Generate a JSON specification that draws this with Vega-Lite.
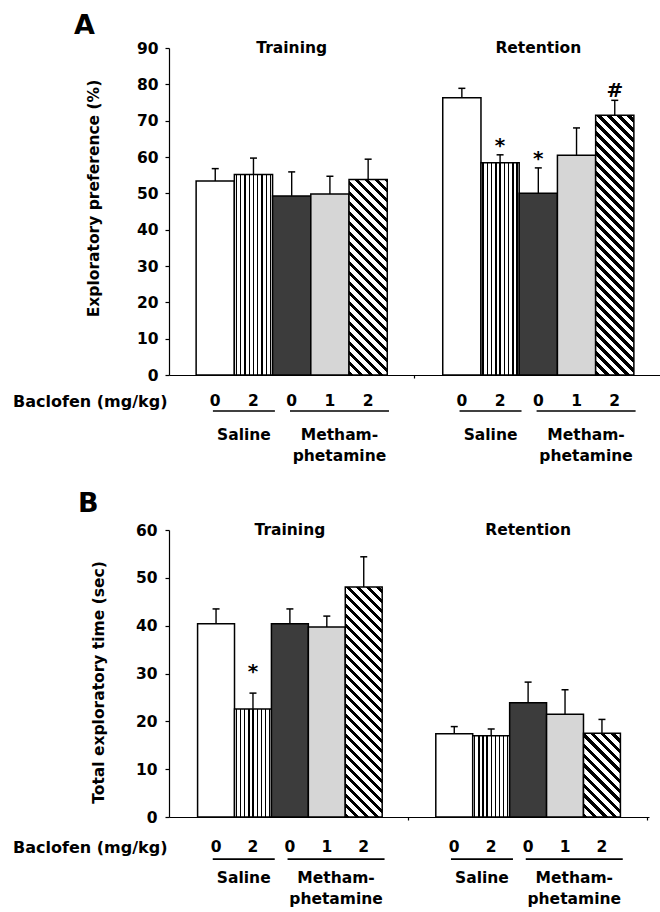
{
  "$schema": "https://vega.github.io/schema/vega-lite/v6.json",
  "background": "white",
  "padding": {"left": 12, "top": 11, "right": 0, "bottom": 0},
  "params": [
    {"name": "vstops", "value": [
      {"offset": 0.04, "color": "#fff"}, {"offset": 0.04, "color": "#000"}, {"offset": 0.075, "color": "#000"}, {"offset": 0.075, "color": "#fff"},
      {"offset": 0.151, "color": "#fff"}, {"offset": 0.151, "color": "#000"}, {"offset": 0.186, "color": "#000"}, {"offset": 0.186, "color": "#fff"},
      {"offset": 0.262, "color": "#fff"}, {"offset": 0.262, "color": "#000"}, {"offset": 0.297, "color": "#000"}, {"offset": 0.297, "color": "#fff"},
      {"offset": 0.373, "color": "#fff"}, {"offset": 0.373, "color": "#000"}, {"offset": 0.408, "color": "#000"}, {"offset": 0.408, "color": "#fff"},
      {"offset": 0.484, "color": "#fff"}, {"offset": 0.484, "color": "#000"}, {"offset": 0.519, "color": "#000"}, {"offset": 0.519, "color": "#fff"},
      {"offset": 0.596, "color": "#fff"}, {"offset": 0.596, "color": "#000"}, {"offset": 0.631, "color": "#000"}, {"offset": 0.631, "color": "#fff"},
      {"offset": 0.707, "color": "#fff"}, {"offset": 0.707, "color": "#000"}, {"offset": 0.742, "color": "#000"}, {"offset": 0.742, "color": "#fff"},
      {"offset": 0.818, "color": "#fff"}, {"offset": 0.818, "color": "#000"}, {"offset": 0.853, "color": "#000"}, {"offset": 0.853, "color": "#fff"},
      {"offset": 0.929, "color": "#fff"}, {"offset": 0.929, "color": "#000"}, {"offset": 0.964, "color": "#000"}, {"offset": 0.964, "color": "#fff"}
    ]},
    {"name": "dstops", "value": [
      {"offset": 0, "color": "#fff"}, {"offset": 0, "color": "#000"}, {"offset": 0.015, "color": "#000"}, {"offset": 0.015, "color": "#fff"},
      {"offset": 0.0333, "color": "#fff"}, {"offset": 0.0333, "color": "#000"}, {"offset": 0.0483, "color": "#000"}, {"offset": 0.0483, "color": "#fff"},
      {"offset": 0.0667, "color": "#fff"}, {"offset": 0.0667, "color": "#000"}, {"offset": 0.0817, "color": "#000"}, {"offset": 0.0817, "color": "#fff"},
      {"offset": 0.1, "color": "#fff"}, {"offset": 0.1, "color": "#000"}, {"offset": 0.115, "color": "#000"}, {"offset": 0.115, "color": "#fff"},
      {"offset": 0.1333, "color": "#fff"}, {"offset": 0.1333, "color": "#000"}, {"offset": 0.1483, "color": "#000"}, {"offset": 0.1483, "color": "#fff"},
      {"offset": 0.1667, "color": "#fff"}, {"offset": 0.1667, "color": "#000"}, {"offset": 0.1817, "color": "#000"}, {"offset": 0.1817, "color": "#fff"},
      {"offset": 0.2, "color": "#fff"}, {"offset": 0.2, "color": "#000"}, {"offset": 0.215, "color": "#000"}, {"offset": 0.215, "color": "#fff"},
      {"offset": 0.2333, "color": "#fff"}, {"offset": 0.2333, "color": "#000"}, {"offset": 0.2483, "color": "#000"}, {"offset": 0.2483, "color": "#fff"},
      {"offset": 0.2667, "color": "#fff"}, {"offset": 0.2667, "color": "#000"}, {"offset": 0.2817, "color": "#000"}, {"offset": 0.2817, "color": "#fff"},
      {"offset": 0.3, "color": "#fff"}, {"offset": 0.3, "color": "#000"}, {"offset": 0.315, "color": "#000"}, {"offset": 0.315, "color": "#fff"},
      {"offset": 0.3333, "color": "#fff"}, {"offset": 0.3333, "color": "#000"}, {"offset": 0.3483, "color": "#000"}, {"offset": 0.3483, "color": "#fff"},
      {"offset": 0.3667, "color": "#fff"}, {"offset": 0.3667, "color": "#000"}, {"offset": 0.3817, "color": "#000"}, {"offset": 0.3817, "color": "#fff"},
      {"offset": 0.4, "color": "#fff"}, {"offset": 0.4, "color": "#000"}, {"offset": 0.415, "color": "#000"}, {"offset": 0.415, "color": "#fff"},
      {"offset": 0.4333, "color": "#fff"}, {"offset": 0.4333, "color": "#000"}, {"offset": 0.4483, "color": "#000"}, {"offset": 0.4483, "color": "#fff"},
      {"offset": 0.4667, "color": "#fff"}, {"offset": 0.4667, "color": "#000"}, {"offset": 0.4817, "color": "#000"}, {"offset": 0.4817, "color": "#fff"},
      {"offset": 0.5, "color": "#fff"}, {"offset": 0.5, "color": "#000"}, {"offset": 0.515, "color": "#000"}, {"offset": 0.515, "color": "#fff"},
      {"offset": 0.5333, "color": "#fff"}, {"offset": 0.5333, "color": "#000"}, {"offset": 0.5483, "color": "#000"}, {"offset": 0.5483, "color": "#fff"},
      {"offset": 0.5667, "color": "#fff"}, {"offset": 0.5667, "color": "#000"}, {"offset": 0.5817, "color": "#000"}, {"offset": 0.5817, "color": "#fff"},
      {"offset": 0.6, "color": "#fff"}, {"offset": 0.6, "color": "#000"}, {"offset": 0.615, "color": "#000"}, {"offset": 0.615, "color": "#fff"},
      {"offset": 0.6333, "color": "#fff"}, {"offset": 0.6333, "color": "#000"}, {"offset": 0.6483, "color": "#000"}, {"offset": 0.6483, "color": "#fff"},
      {"offset": 0.6667, "color": "#fff"}, {"offset": 0.6667, "color": "#000"}, {"offset": 0.6817, "color": "#000"}, {"offset": 0.6817, "color": "#fff"},
      {"offset": 0.7, "color": "#fff"}, {"offset": 0.7, "color": "#000"}, {"offset": 0.715, "color": "#000"}, {"offset": 0.715, "color": "#fff"},
      {"offset": 0.7333, "color": "#fff"}, {"offset": 0.7333, "color": "#000"}, {"offset": 0.7483, "color": "#000"}, {"offset": 0.7483, "color": "#fff"},
      {"offset": 0.7667, "color": "#fff"}, {"offset": 0.7667, "color": "#000"}, {"offset": 0.7817, "color": "#000"}, {"offset": 0.7817, "color": "#fff"},
      {"offset": 0.8, "color": "#fff"}, {"offset": 0.8, "color": "#000"}, {"offset": 0.815, "color": "#000"}, {"offset": 0.815, "color": "#fff"},
      {"offset": 0.8333, "color": "#fff"}, {"offset": 0.8333, "color": "#000"}, {"offset": 0.8483, "color": "#000"}, {"offset": 0.8483, "color": "#fff"},
      {"offset": 0.8667, "color": "#fff"}, {"offset": 0.8667, "color": "#000"}, {"offset": 0.8817, "color": "#000"}, {"offset": 0.8817, "color": "#fff"},
      {"offset": 0.9, "color": "#fff"}, {"offset": 0.9, "color": "#000"}, {"offset": 0.915, "color": "#000"}, {"offset": 0.915, "color": "#fff"},
      {"offset": 0.9333, "color": "#fff"}, {"offset": 0.9333, "color": "#000"}, {"offset": 0.9483, "color": "#000"}, {"offset": 0.9483, "color": "#fff"},
      {"offset": 0.9667, "color": "#fff"}, {"offset": 0.9667, "color": "#000"}, {"offset": 0.9817, "color": "#000"}, {"offset": 0.9817, "color": "#fff"}
    ]}
  ],
  "datasets": {
    "pref": [
      {"phase": "Training", "grp": "Sal0", "dose": "0", "mean": 53.4, "hi": 56.8, "sig": ""},
      {"phase": "Training", "grp": "Sal2", "dose": "2", "mean": 55.2, "hi": 59.7, "sig": ""},
      {"phase": "Training", "grp": "Meth0", "dose": "0", "mean": 49.3, "hi": 55.9, "sig": ""},
      {"phase": "Training", "grp": "Meth1", "dose": "1", "mean": 49.8, "hi": 54.7, "sig": ""},
      {"phase": "Training", "grp": "Meth2", "dose": "2", "mean": 53.8, "hi": 59.4, "sig": ""},
      {"phase": "Retention", "grp": "Sal0", "dose": "0", "mean": 76.3, "hi": 78.9, "sig": ""},
      {"phase": "Retention", "grp": "Sal2", "dose": "2", "mean": 58.4, "hi": 60.6, "sig": "*"},
      {"phase": "Retention", "grp": "Meth0", "dose": "0", "mean": 50.0, "hi": 57.0, "sig": "*"},
      {"phase": "Retention", "grp": "Meth1", "dose": "1", "mean": 60.5, "hi": 68.0, "sig": ""},
      {"phase": "Retention", "grp": "Meth2", "dose": "2", "mean": 71.5, "hi": 75.6, "sig": "#"}
    ],
    "time": [
      {"phase": "Training", "grp": "Sal0", "dose": "0", "mean": 40.4, "hi": 43.5, "sig": ""},
      {"phase": "Training", "grp": "Sal2", "dose": "2", "mean": 22.6, "hi": 25.9, "sig": "*"},
      {"phase": "Training", "grp": "Meth0", "dose": "0", "mean": 40.4, "hi": 43.5, "sig": ""},
      {"phase": "Training", "grp": "Meth1", "dose": "1", "mean": 39.7, "hi": 42.0, "sig": ""},
      {"phase": "Training", "grp": "Meth2", "dose": "2", "mean": 48.1, "hi": 54.4, "sig": ""},
      {"phase": "Retention", "grp": "Sal0", "dose": "0", "mean": 17.4, "hi": 18.9, "sig": ""},
      {"phase": "Retention", "grp": "Sal2", "dose": "2", "mean": 17.0, "hi": 18.4, "sig": ""},
      {"phase": "Retention", "grp": "Meth0", "dose": "0", "mean": 23.9, "hi": 28.2, "sig": ""},
      {"phase": "Retention", "grp": "Meth1", "dose": "1", "mean": 21.5, "hi": 26.6, "sig": ""},
      {"phase": "Retention", "grp": "Meth2", "dose": "2", "mean": 17.5, "hi": 20.4, "sig": ""}
    ],
    "groups": [
      {"phase": "Training", "sub": "Saline", "label": "Saline"},
      {"phase": "Training", "sub": "Metham", "label": "Metham-\nphetamine"},
      {"phase": "Retention", "sub": "Saline", "label": "Saline"},
      {"phase": "Retention", "sub": "Metham", "label": "Metham-\nphetamine"}
    ],
    "phases": [
      {"phase": "Training"},
      {"phase": "Retention"}
    ]
  },
  "spacing": 24,
  "vconcat": [
    {
      "width": 492,
      "height": 327,
      "title": {"text": "A", "anchor": "start", "frame": "group", "dx": -95, "offset": -19.5, "baseline": "alphabetic"},
      "data": {"name": "pref"},
      "resolve": {"scale": {"xOffset": "independent"}},
      "layer": [
        {
          "mark": {"type": "bar", "stroke": "black", "strokeWidth": 1.5},
          "encoding": {
            "x": {"field": "phase", "type": "nominal", "sort": null,
              "scale": {"domain": ["Training", "Retention"], "paddingInner": 0.225, "paddingOuter": 0.11},
              "axis": {"title": "Baclofen (mg/kg)", "labels": false, "bandPosition": 1.145, "tickSize": 3, "titleX": -2, "titleY": 26, "titleAlign": "right", "titleBaseline": "middle", "titleFontSize": 16, "titleAngle": 0}},
            "xOffset": {"field": "grp", "type": "nominal", "scale": {"type": "band", "domain": ["Sal0", "Sal2", "Meth0", "Meth1", "Meth2"], "paddingInner": 0, "paddingOuter": 0}},
            "y": {"field": "mean", "type": "quantitative",
              "scale": {"domain": [0, 90], "nice": false},
              "axis": {"title": "Exploratory preference (%)", "values": [0, 10, 20, 30, 40, 50, 60, 70, 80, 90], "labelOverlap": false, "labelSeparation": -40, "tickSize": 4, "labelPadding": 7, "titlePadding": 35, "titleY": 150}},
            "fill": {
              "condition": [
                {"test": "datum.grp === 'Sal2'", "value": {"expr": "{gradient: 'linear', x1: 0, y1: 0, x2: 1, y2: 0, stops: vstops}"}},
                {"test": "datum.grp === 'Meth0'", "value": "#3c3c3c"},
                {"test": "datum.grp === 'Meth1'", "value": "#d6d6d6"},
                {"test": "datum.grp === 'Meth2' && datum.phase === 'Training'", "value": {"expr": "{gradient: 'linear', x1: 0, y1: 1, x2: 0.289, y2: -0.4783, stops: dstops}"}},
                {"test": "datum.grp === 'Meth2'", "value": {"expr": "{gradient: 'linear', x1: 0, y1: 1, x2: 0.1663, y2: -0.1304, stops: dstops}"}}
              ],
              "value": "white"
            }
          }
        },
        {
          "mark": {"type": "rule", "color": "black", "strokeWidth": 1.4},
          "encoding": {
            "x": {"field": "phase", "type": "nominal"},
            "xOffset": {"field": "grp", "type": "nominal", "scale": {"type": "band", "domain": ["Sal0", "Sal2", "Meth0", "Meth1", "Meth2"], "paddingInner": 0, "paddingOuter": 0}},
            "y": {"field": "mean", "type": "quantitative", "axis": {"title": "Exploratory preference (%)", "values": [0, 10, 20, 30, 40, 50, 60, 70, 80, 90], "labelOverlap": false, "labelSeparation": -40, "tickSize": 4, "labelPadding": 7, "titlePadding": 35, "titleY": 150}},
            "y2": {"field": "hi"}
          }
        },
        {
          "mark": {"type": "tick", "orient": "horizontal", "size": 7, "thickness": 1.5, "color": "black", "opacity": 1},
          "encoding": {
            "x": {"field": "phase", "type": "nominal"},
            "xOffset": {"field": "grp", "type": "nominal", "scale": {"type": "band", "domain": ["Sal0", "Sal2", "Meth0", "Meth1", "Meth2"], "paddingInner": 0, "paddingOuter": 0}},
            "y": {"field": "hi", "type": "quantitative", "axis": {"title": "Exploratory preference (%)", "values": [0, 10, 20, 30, 40, 50, 60, 70, 80, 90], "labelOverlap": false, "labelSeparation": -40, "tickSize": 4, "labelPadding": 7, "titlePadding": 35, "titleY": 150}}
          }
        },
        {
          "transform": [{"filter": "datum.sig !== ''"}],
          "mark": {"type": "text", "baseline": "alphabetic", "dy": -3, "fontSize": 20},
          "encoding": {
            "x": {"field": "phase", "type": "nominal"},
            "xOffset": {"field": "grp", "type": "nominal", "scale": {"type": "band", "domain": ["Sal0", "Sal2", "Meth0", "Meth1", "Meth2"], "paddingInner": 0, "paddingOuter": 0}},
            "y": {"field": "hi", "type": "quantitative", "axis": {"title": "Exploratory preference (%)", "values": [0, 10, 20, 30, 40, 50, 60, 70, 80, 90], "labelOverlap": false, "labelSeparation": -40, "tickSize": 4, "labelPadding": 7, "titlePadding": 35, "titleY": 150}},
            "text": {"field": "sig", "type": "nominal"}
          }
        },
        {
          "mark": {"type": "text", "baseline": "middle"},
          "encoding": {
            "x": {"field": "phase", "type": "nominal"},
            "xOffset": {"field": "grp", "type": "nominal", "scale": {"type": "band", "domain": ["Sal0", "Sal2", "Meth0", "Meth1", "Meth2"], "paddingInner": 0, "paddingOuter": 0}},
            "y": {"datum": -7.16, "type": "quantitative", "axis": {"title": "Exploratory preference (%)", "values": [0, 10, 20, 30, 40, 50, 60, 70, 80, 90], "labelOverlap": false, "labelSeparation": -40, "tickSize": 4, "labelPadding": 7, "titlePadding": 35, "titleY": 150}},
            "text": {"field": "dose", "type": "nominal"}
          }
        },
        {
          "data": {"name": "groups"},
          "transform": [{"filter": "datum.sub === 'Saline'"}],
          "mark": {"type": "tick", "orient": "horizontal", "size": 62, "thickness": 1.6, "color": "black", "opacity": 1},
          "encoding": {
            "x": {"field": "phase", "type": "nominal"},
            "xOffset": {"field": "sub", "type": "nominal", "scale": {"type": "band", "domain": ["Saline", "Metham"], "paddingInner": 0, "paddingOuter": 0}},
            "y": {"datum": -9.9, "type": "quantitative", "axis": {"title": "Exploratory preference (%)", "values": [0, 10, 20, 30, 40, 50, 60, 70, 80, 90], "labelOverlap": false, "labelSeparation": -40, "tickSize": 4, "labelPadding": 7, "titlePadding": 35, "titleY": 150}}
          }
        },
        {
          "data": {"name": "groups"},
          "transform": [{"filter": "datum.sub === 'Metham'"}],
          "mark": {"type": "tick", "orient": "horizontal", "size": 99, "thickness": 1.6, "color": "black", "opacity": 1},
          "encoding": {
            "x": {"field": "phase", "type": "nominal"},
            "xOffset": {"field": "sub", "type": "nominal", "scale": {"type": "band", "domain": ["Saline", "Metham"], "paddingInner": 0, "paddingOuter": 0}},
            "y": {"datum": -9.9, "type": "quantitative", "axis": {"title": "Exploratory preference (%)", "values": [0, 10, 20, 30, 40, 50, 60, 70, 80, 90], "labelOverlap": false, "labelSeparation": -40, "tickSize": 4, "labelPadding": 7, "titlePadding": 35, "titleY": 150}}
          }
        },
        {
          "data": {"name": "groups"},
          "mark": {"type": "text", "baseline": "top", "lineBreak": "\n", "lineHeight": 21},
          "encoding": {
            "x": {"field": "phase", "type": "nominal"},
            "xOffset": {"field": "sub", "type": "nominal", "scale": {"type": "band", "domain": ["Saline", "Metham"], "paddingInner": 0, "paddingOuter": 0}},
            "y": {"datum": -14.45, "type": "quantitative", "axis": {"title": "Exploratory preference (%)", "values": [0, 10, 20, 30, 40, 50, 60, 70, 80, 90], "labelOverlap": false, "labelSeparation": -40, "tickSize": 4, "labelPadding": 7, "titlePadding": 35, "titleY": 150}},
            "text": {"field": "label", "type": "nominal"}
          }
        },
        {
          "data": {"name": "phases"},
          "mark": {"type": "text", "baseline": "middle"},
          "encoding": {
            "x": {"field": "phase", "type": "nominal"},
            "y": {"datum": 90, "type": "quantitative", "axis": {"title": "Exploratory preference (%)", "values": [0, 10, 20, 30, 40, 50, 60, 70, 80, 90], "labelOverlap": false, "labelSeparation": -40, "tickSize": 4, "labelPadding": 7, "titlePadding": 35, "titleY": 150}},
            "text": {"field": "phase", "type": "nominal"}
          }
        }
      ]
    },
    {
      "width": 480,
      "height": 287,
      "title": {"text": "B", "anchor": "start", "frame": "group", "dx": -91, "offset": -15.5, "baseline": "alphabetic"},
      "data": {"name": "time"},
      "resolve": {"scale": {"xOffset": "independent"}},
      "layer": [
        {
          "mark": {"type": "bar", "stroke": "black", "strokeWidth": 1.5},
          "encoding": {
            "x": {"field": "phase", "type": "nominal", "sort": null,
              "scale": {"domain": ["Training", "Retention"], "paddingInner": 0.225, "paddingOuter": 0.12},
              "axis": {"title": "Baclofen (mg/kg)", "labels": false, "bandPosition": 1.145, "tickSize": 3, "titleX": -2, "titleY": 30, "titleAlign": "right", "titleBaseline": "middle", "titleFontSize": 16, "titleAngle": 0}},
            "xOffset": {"field": "grp", "type": "nominal", "scale": {"type": "band", "domain": ["Sal0", "Sal2", "Meth0", "Meth1", "Meth2"], "paddingInner": 0, "paddingOuter": 0}},
            "y": {"field": "mean", "type": "quantitative",
              "scale": {"domain": [0, 60], "nice": false},
              "axis": {"title": "Total exploratory time  (sec)", "values": [0, 10, 20, 30, 40, 50, 60], "labelOverlap": false, "tickSize": 4, "labelPadding": 8, "titlePadding": 29, "titleY": 152}},
            "fill": {
              "condition": [
                {"test": "datum.grp === 'Sal2'", "value": {"expr": "{gradient: 'linear', x1: 0, y1: 0, x2: 1, y2: 0, stops: vstops}"}},
                {"test": "datum.grp === 'Meth0'", "value": "#3c3c3c"},
                {"test": "datum.grp === 'Meth1'", "value": "#d6d6d6"},
                {"test": "datum.grp === 'Meth2' && datum.phase === 'Training'", "value": {"expr": "{gradient: 'linear', x1: 0, y1: 1, x2: 0.2039, y2: -0.2711, stops: dstops}"}},
                {"test": "datum.grp === 'Meth2'", "value": {"expr": "{gradient: 'linear', x1: 0, y1: 1, x2: 1.3235, y2: -2.0004, stops: dstops}"}}
              ],
              "value": "white"
            }
          }
        },
        {
          "mark": {"type": "rule", "color": "black", "strokeWidth": 1.4},
          "encoding": {
            "x": {"field": "phase", "type": "nominal"},
            "xOffset": {"field": "grp", "type": "nominal", "scale": {"type": "band", "domain": ["Sal0", "Sal2", "Meth0", "Meth1", "Meth2"], "paddingInner": 0, "paddingOuter": 0}},
            "y": {"field": "mean", "type": "quantitative"},
            "y2": {"field": "hi"}
          }
        },
        {
          "mark": {"type": "tick", "orient": "horizontal", "size": 7, "thickness": 1.5, "color": "black", "opacity": 1},
          "encoding": {
            "x": {"field": "phase", "type": "nominal"},
            "xOffset": {"field": "grp", "type": "nominal", "scale": {"type": "band", "domain": ["Sal0", "Sal2", "Meth0", "Meth1", "Meth2"], "paddingInner": 0, "paddingOuter": 0}},
            "y": {"field": "hi", "type": "quantitative"}
          }
        },
        {
          "transform": [{"filter": "datum.sig !== ''"}],
          "mark": {"type": "text", "baseline": "alphabetic", "dy": -15, "fontSize": 20},
          "encoding": {
            "x": {"field": "phase", "type": "nominal"},
            "xOffset": {"field": "grp", "type": "nominal", "scale": {"type": "band", "domain": ["Sal0", "Sal2", "Meth0", "Meth1", "Meth2"], "paddingInner": 0, "paddingOuter": 0}},
            "y": {"field": "hi", "type": "quantitative"},
            "text": {"field": "sig", "type": "nominal"}
          }
        },
        {
          "mark": {"type": "text", "baseline": "middle"},
          "encoding": {
            "x": {"field": "phase", "type": "nominal"},
            "xOffset": {"field": "grp", "type": "nominal", "scale": {"type": "band", "domain": ["Sal0", "Sal2", "Meth0", "Meth1", "Meth2"], "paddingInner": 0, "paddingOuter": 0}},
            "y": {"datum": -6.27, "type": "quantitative"},
            "text": {"field": "dose", "type": "nominal"}
          }
        },
        {
          "data": {"name": "groups"},
          "transform": [{"filter": "datum.sub === 'Saline'"}],
          "mark": {"type": "tick", "orient": "horizontal", "size": 62, "thickness": 1.6, "color": "black", "opacity": 1},
          "encoding": {
            "x": {"field": "phase", "type": "nominal"},
            "xOffset": {"field": "sub", "type": "nominal", "scale": {"type": "band", "domain": ["Saline", "Metham"], "paddingInner": 0, "paddingOuter": 0}},
            "y": {"datum": -8.8, "type": "quantitative"}
          }
        },
        {
          "data": {"name": "groups"},
          "transform": [{"filter": "datum.sub === 'Metham'"}],
          "mark": {"type": "tick", "orient": "horizontal", "size": 97, "thickness": 1.6, "color": "black", "opacity": 1},
          "encoding": {
            "x": {"field": "phase", "type": "nominal"},
            "xOffset": {"field": "sub", "type": "nominal", "scale": {"type": "band", "domain": ["Saline", "Metham"], "paddingInner": 0, "paddingOuter": 0}},
            "y": {"datum": -8.8, "type": "quantitative"}
          }
        },
        {
          "data": {"name": "groups"},
          "mark": {"type": "text", "baseline": "top", "lineBreak": "\n", "lineHeight": 21},
          "encoding": {
            "x": {"field": "phase", "type": "nominal"},
            "xOffset": {"field": "sub", "type": "nominal", "scale": {"type": "band", "domain": ["Saline", "Metham"], "paddingInner": 0, "paddingOuter": 0}},
            "y": {"datum": -11.2, "type": "quantitative"},
            "text": {"field": "label", "type": "nominal"}
          }
        },
        {
          "data": {"name": "phases"},
          "mark": {"type": "text", "baseline": "middle"},
          "encoding": {
            "x": {"field": "phase", "type": "nominal"},
            "y": {"datum": 60, "type": "quantitative"},
            "text": {"field": "phase", "type": "nominal"}
          }
        }
      ]
    }
  ],
  "config": {
    "view": {"stroke": null},
    "font": "DejaVu Sans",
    "axis": {
      "labelFont": "DejaVu Sans", "labelFontWeight": "bold", "labelFontSize": 15.5, "labelColor": "black",
      "titleFont": "DejaVu Sans", "titleFontWeight": "bold", "titleFontSize": 15.5, "titleColor": "black",
      "domainColor": "black", "tickColor": "black", "domainWidth": 1.2, "tickWidth": 1.2, "grid": false,
      "labelOverlap": false
    },
    "text": {"font": "DejaVu Sans", "fontWeight": "bold", "fontSize": 15.5, "color": "black"},
    "title": {"font": "DejaVu Sans", "fontWeight": "bold", "fontSize": 27, "color": "black"}
  }
}
